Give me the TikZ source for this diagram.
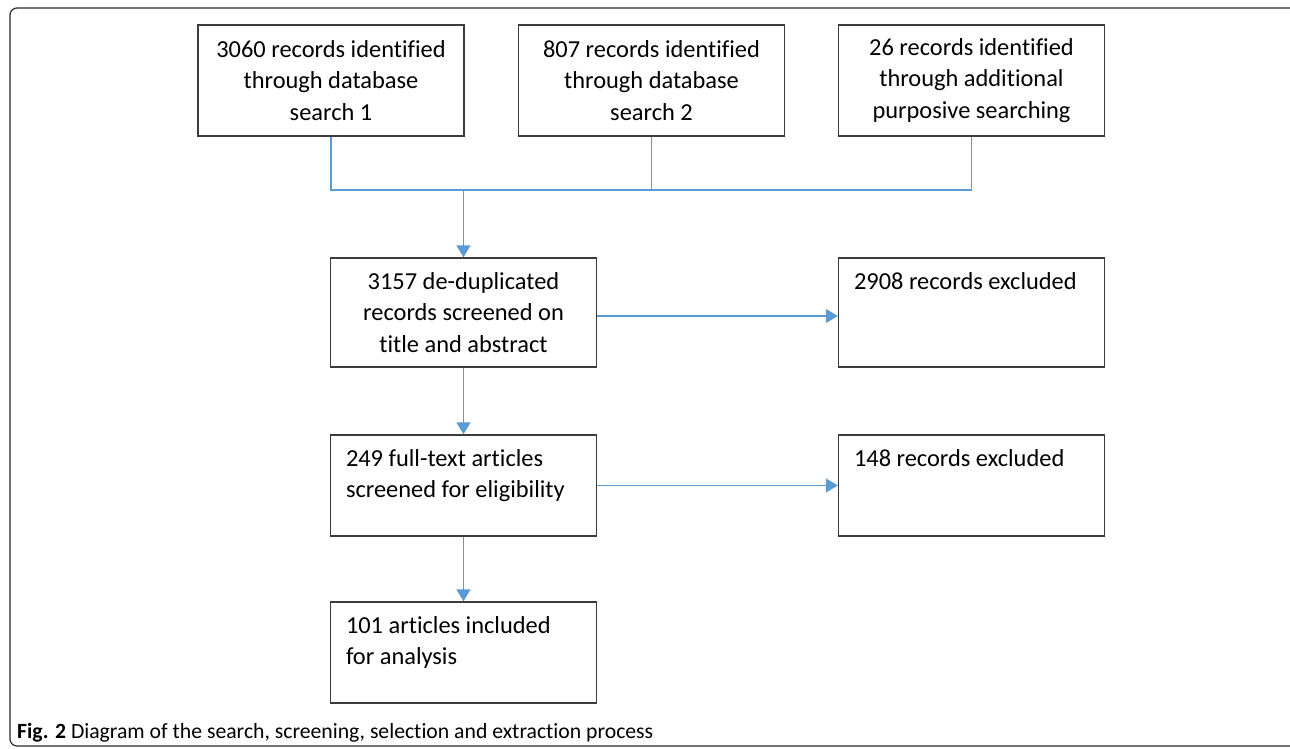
\documentclass[tikz,border=0pt]{standalone}
\usepackage{fontspec}
\usepackage{tikz}
\usetikzlibrary{arrows.meta}
\newfontfamily\boxfont{Carlito}[Ligatures=NoCommon]
\definecolor{boxgray}{HTML}{3C3C3C}
\definecolor{linkblue}{HTML}{5B9BD5}
\definecolor{framegray}{HTML}{2A2A2A}

\tikzset{
  flowbox/.style={draw=boxgray,line width=1.4pt,minimum width=266pt,inner sep=0pt,
    align=center,font=\boxfont\fontsize{24.4}{31.5}\selectfont},
  topleft/.style={label={[inner sep=0pt,anchor=north west,align=left,xshift=16pt,yshift=-15pt,
    font=\boxfont\fontsize{24.4}{31.5}\selectfont]north west:#1}},
  link/.style={draw=linkblue,line width=1.5pt},
  linkarrow/.style={link,-{Triangle[width=14pt,length=12pt]}}
}

\begin{document}
\begin{tikzpicture}[x=1pt,y=-1pt]
\useasboundingbox (0,0) rectangle (1290,749);
\draw[framegray,line width=1.2pt,rounded corners=7pt] (10,8) rectangle (1297,746);

% identification
\node[flowbox,minimum height=111pt] (search1) at (331,80.5) {3060 records identified\\through database\\search 1};
\node[flowbox,minimum height=111pt] (search2) at (651.5,80.5) {807 records identified\\through database\\search 2};
\node[flowbox,minimum height=111pt] (search3) at (971.5,80.5) {26 records identified\\through additional\\purposive searching};
\coordinate (join) at (463.5,190);

% screening
\node[flowbox,minimum height=109pt] (dedup) at (463.5,312.5) {3157 de-duplicated\\records screened on\\title and abstract};
\node[flowbox,minimum height=109pt,topleft={2908 records excluded}] (excl1) at (971.5,312.5) {};
\node[flowbox,minimum height=101pt,topleft={249 full-text articles\\screened for eligibility}] (fulltext) at (463.5,485.5) {};
\node[flowbox,minimum height=101pt,topleft={148 records excluded}] (excl2) at (971.5,485.5) {};
\node[flowbox,minimum height=101pt,topleft={101 articles included\\for analysis}] (incl) at (463.5,652.5) {};

% connectors
\draw[link] (search1.south) |- (join) -| (search3.south);
\draw[link] (search2.south) -- (search2.south |- join);
\draw[linkarrow] (join) -- (dedup.north);
\draw[linkarrow] ([yshift=-3.5pt]dedup.east) -- ([yshift=-3.5pt]excl1.west);
\draw[linkarrow] (dedup.south) -- (fulltext.north);
\draw[linkarrow] (fulltext.east) -- (excl2.west);
\draw[linkarrow] (fulltext.south) -- (incl.north);

% caption
\node[anchor=base west,inner sep=0pt,font=\boxfont\fontsize{21.7}{24}\selectfont] (caption) at (17,738)
  {\textbf{Fig. 2} Diagram of the search, screening, selection and extraction process};
\end{tikzpicture}
\end{document}
